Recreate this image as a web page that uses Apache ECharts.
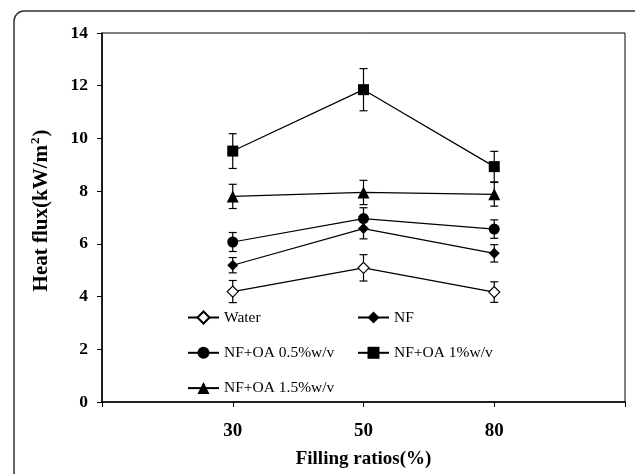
<!DOCTYPE html>
<html>
<head>
<meta charset="utf-8">
<script src="https://cdn.jsdelivr.net/npm/echarts@6/dist/echarts.min.js"></script>
<style>html,body{margin:0;padding:0;background:#fff}#c{width:635px;height:474px}</style>
</head>
<body>
<div id="c"></div>
<script>
var fillingRatios = ['30', '50', '80'];
var yTicks = [0, 2, 4, 6, 8, 10, 12, 14];
var seriesNames = ['Water', 'NF', 'NF+OA 0.5%w/v', 'NF+OA 1%w/v', 'NF+OA 1.5%w/v'];
var water = [4.19, 5.09, 4.17];
var waterErr = [0.42, 0.50, 0.39];
var nf = [5.19, 6.58, 5.64];
var nfErr = [0.29, 0.39, 0.33];
var oa05 = [6.07, 6.96, 6.56];
var oa05Err = [0.36, 0.41, 0.35];
var oa1 = [9.52, 11.85, 8.93];
var oa1Err = [0.66, 0.80, 0.58];
var oa15 = [7.80, 7.95, 7.88];
var oa15Err = [0.46, 0.46, 0.45];

var categories = [''].concat(fillingRatios).concat(['']);
var font = '"Liberation Serif","Times New Roman",serif';

function pad(arr) { return [null].concat(arr).concat([null]); }

var values = [water, nf, oa05, oa1, oa15];
var errs = [waterErr, nfErr, oa05Err, oa1Err, oa15Err];
var symbols = ['diamond', 'diamond', 'circle', 'rect', 'triangle'];
var sizes = [11, 11, 11, 11, 12];

var series = [];
values.forEach(function (v, i) {
  var errData = v.map(function (y, j) { return [j + 1, y - errs[i][j], y + errs[i][j]]; });
  series.push({
    type: 'custom',
    name: seriesNames[i] + ' err',
    z: 1,
    silent: true,
    data: errData,
    renderItem: function (params, api) {
      var x = api.value(0);
      var lo = api.coord([x, api.value(1)]);
      var hi = api.coord([x, api.value(2)]);
      var w = 4;
      var st = { stroke: '#000', lineWidth: 1.2 };
      return {
        type: 'group',
        children: [
          { type: 'line', shape: { x1: lo[0], y1: lo[1], x2: hi[0], y2: hi[1] }, style: st },
          { type: 'line', shape: { x1: lo[0] - w, y1: lo[1], x2: lo[0] + w, y2: lo[1] }, style: st },
          { type: 'line', shape: { x1: hi[0] - w, y1: hi[1], x2: hi[0] + w, y2: hi[1] }, style: st }
        ]
      };
    }
  });
  series.push({
    type: 'line',
    name: seriesNames[i],
    z: 3,
    data: pad(v),
    symbol: symbols[i],
    symbolSize: sizes[i],
    showAllSymbol: true,
    lineStyle: { color: '#000', width: 1.2 },
    itemStyle: i === 0 ? { color: '#fff', borderColor: '#000', borderWidth: 1.2 } : { color: '#000', borderColor: '#000', borderWidth: 0 },
    emphasis: { disabled: true }
  });
});

var legendCommon = {
  orient: 'vertical',
  itemWidth: 31,
  itemHeight: 15,
  itemGap: 19.3,
  selectedMode: false,
  textStyle: { fontFamily: font, fontSize: 15.5, color: '#000' }
};

var chart = echarts.init(document.getElementById('c'), null, { renderer: 'canvas' });
chart.setOption({
  backgroundColor: '#fff',
  animation: false,
  graphic: [{
    type: 'rect',
    shape: { x: 14, y: 11, width: 640, height: 500, r: 10 },
    style: { fill: 'none', stroke: '#333', lineWidth: 1.5 },
    silent: true,
    z: -10
  }],
  legend: [
    Object.assign({ left: 182, top: 304.5, data: [seriesNames[0], seriesNames[2], seriesNames[4]] }, legendCommon),
    Object.assign({ left: 352, top: 304.5, data: [seriesNames[1], seriesNames[3]] }, legendCommon)
  ],
  grid: {
    left: 102, right: 10, top: 33, bottom: 67,
    show: true, borderColor: '#000', borderWidth: 1, backgroundColor: 'transparent'
  },
  xAxis: {
    type: 'category',
    data: categories,
    boundaryGap: false,
    name: 'Filling ratios(%)',
    nameLocation: 'middle',
    nameGap: 48,
    nameTextStyle: { fontFamily: font, fontSize: 19, fontWeight: 'bold', color: '#000' },
    axisLine: { lineStyle: { color: '#000', width: 1.5 } },
    axisTick: { show: true, length: 5, lineStyle: { color: '#000', width: 1 }, interval: 0 },
    axisLabel: { fontFamily: font, fontSize: 19, fontWeight: 'bold', color: '#000', margin: 20, interval: 0 },
    splitLine: { show: false }
  },
  yAxis: {
    type: 'value',
    min: yTicks[0],
    max: yTicks[yTicks.length - 1],
    interval: yTicks[1] - yTicks[0],
    name: '{a|Heat flux(kW/m}{s|2}{a|)}',
    nameLocation: 'middle',
    nameGap: 50,
    nameTextStyle: {
      fontFamily: font, fontSize: 21, fontWeight: 'bold', color: '#000',
      padding: [0, 0, 0, 14],
      rich: {
        a: { fontFamily: font, fontSize: 21, fontWeight: 'bold', color: '#000', lineHeight: 23, verticalAlign: 'bottom' },
        s: { fontFamily: font, fontSize: 13, fontWeight: 'bold', color: '#000', lineHeight: 23, verticalAlign: 'top', padding: [0, 1, 0, 1] }
      }
    },
    axisLine: { show: true, lineStyle: { color: '#000', width: 1.5 } },
    axisTick: { show: true, length: 5, lineStyle: { color: '#000', width: 1 } },
    axisLabel: { fontFamily: font, fontSize: 17.5, fontWeight: 'bold', color: '#000', margin: 14 },
    splitLine: { show: false }
  },
  series: series
});
</script>
</body>
</html>
